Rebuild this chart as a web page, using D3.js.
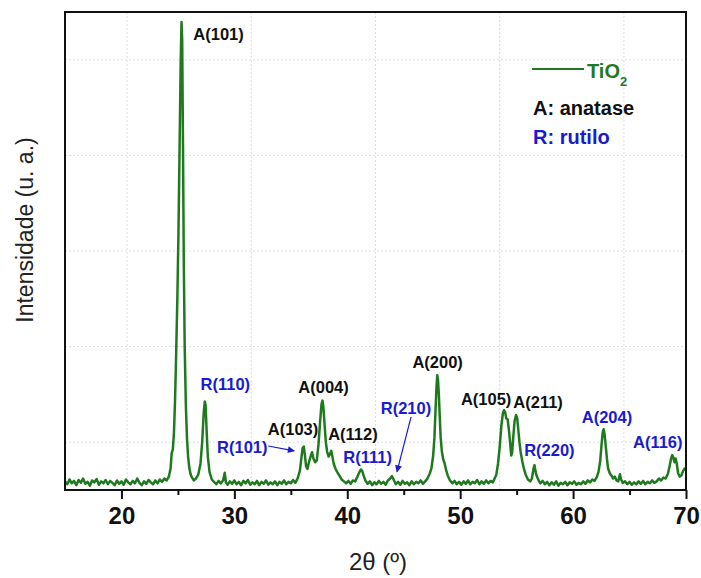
<!DOCTYPE html>
<html>
<head>
<meta charset="utf-8">
<script src="https://d3js.org/d3.v7.min.js"></script>
<style>
body { margin: 0; background: #fff; }
text { font-family: "Liberation Sans", Arial, sans-serif; }
</style>
</head>
<body>
<script>
// XRD pattern of TiO2: [2theta, intensity (a.u.)]
var xrdPoints = [
  [15.0,18],[15.2,12],[15.4,22],[15.6,14],[15.8,19],[16.0,10],[16.2,21],[16.4,15],[16.6,24],[16.8,13],
  [17.0,17],[17.2,9],[17.4,20],[17.6,16],[17.8,23],[18.0,11],[18.2,18],[18.4,14],[18.6,21],[18.8,12],
  [19.0,19],[19.2,15],[19.4,10],[19.6,20],[19.8,13],[20.0,18],[20.2,11],[20.4,22],[20.6,16],[20.8,12],
  [21.0,19],[21.2,14],[21.4,24],[21.6,15],[21.8,10],[22.0,18],[22.2,13],[22.4,21],[22.6,16],[22.8,12],
  [23.0,20],[23.2,14],[23.4,22],[23.6,17],[23.8,24],[24.0,20],[24.2,28],[24.35,45],[24.45,77],[24.55,85],
  [24.65,120],[24.75,190],[24.85,290],[24.95,400],[25.05,540],[25.15,720],[25.25,900],[25.32,979],[25.38,940],[25.45,720],
  [25.52,480],[25.6,300],[25.7,180],[25.8,110],[25.9,70],[26.0,48],[26.1,35],[26.2,28],[26.4,20],[26.6,24],
  [26.8,32],[27.0,55],[27.15,100],[27.28,160],[27.38,185],[27.45,178],[27.55,120],[27.65,70],[27.8,38],[28.0,22],
  [28.2,17],[28.4,12],[28.6,19],[28.8,14],[29.0,20],[29.15,36],[29.25,16],[29.4,11],[29.6,18],[29.8,13],
  [30.0,20],[30.2,12],[30.4,17],[30.6,10],[30.8,19],[31.0,14],[31.2,21],[31.4,11],[31.6,16],[31.8,12],
  [32.0,19],[32.2,10],[32.4,17],[32.6,13],[32.8,20],[33.0,11],[33.2,16],[33.4,12],[33.6,18],[33.8,10],
  [34.0,17],[34.2,13],[34.4,20],[34.6,12],[34.8,17],[35.0,14],[35.2,21],[35.4,15],[35.6,24],[35.8,40],
  [35.95,70],[36.05,88],[36.15,91],[36.25,72],[36.35,50],[36.47,44],[36.6,58],[36.75,70],[36.88,79],[37.0,66],
  [37.15,58],[37.3,62],[37.45,95],[37.6,145],[37.72,180],[37.8,187],[37.88,175],[37.98,140],[38.1,100],[38.22,80],
  [38.35,70],[38.48,76],[38.58,82],[38.68,70],[38.8,55],[38.95,45],[39.1,38],[39.3,30],[39.5,22],[39.7,18],
  [39.9,14],[40.1,19],[40.3,13],[40.5,20],[40.7,18],[40.9,28],[41.05,36],[41.2,43],[41.32,40],[41.45,30],
  [41.6,20],[41.8,13],[42.0,18],[42.2,10],[42.4,16],[42.6,12],[42.8,19],[43.0,13],[43.2,17],[43.4,11],
  [43.6,20],[43.8,24],[43.95,29],[44.1,22],[44.3,12],[44.5,17],[44.7,11],[44.9,19],[45.1,13],[45.3,16],
  [45.5,10],[45.7,18],[45.9,12],[46.1,17],[46.3,14],[46.5,20],[46.7,13],[46.9,18],[47.1,24],[47.3,34],
  [47.45,45],[47.6,70],[47.72,110],[47.82,170],[47.9,215],[47.97,240],[48.03,232],[48.1,205],[48.18,160],[48.27,110],
  [48.38,80],[48.5,64],[48.62,56],[48.75,42],[48.9,30],[49.1,20],[49.3,14],[49.5,19],[49.7,12],[49.9,17],
  [50.1,11],[50.3,18],[50.5,13],[50.7,20],[50.9,12],[51.1,17],[51.3,14],[51.5,21],[51.7,12],[51.9,18],
  [52.1,13],[52.3,20],[52.5,14],[52.7,19],[52.9,16],[53.05,24],[53.2,32],[53.35,55],[53.5,90],[53.65,135],
  [53.78,160],[53.88,167],[53.98,163],[54.08,150],[54.2,148],[54.32,125],[54.42,100],[54.52,72],[54.6,78],[54.7,110],
  [54.82,145],[54.95,157],[55.05,150],[55.15,125],[55.25,100],[55.35,80],[55.5,60],[55.65,44],[55.8,32],[56.0,22],
  [56.2,18],[56.35,24],[56.5,45],[56.58,52],[56.68,38],[56.8,28],[56.95,20],[57.1,14],[57.3,19],[57.5,12],
  [57.7,17],[57.9,10],[58.1,16],[58.3,11],[58.5,18],[58.7,9],[58.9,15],[59.1,12],[59.3,17],[59.5,10],
  [59.7,16],[59.9,13],[60.1,18],[60.3,11],[60.5,15],[60.7,12],[60.9,18],[61.1,13],[61.3,20],[61.5,16],
  [61.7,22],[61.9,19],[62.1,27],[62.25,38],[62.4,60],[62.52,95],[62.62,120],[62.7,127],[62.78,118],[62.88,95],
  [63.0,65],[63.1,45],[63.25,35],[63.4,30],[63.55,24],[63.7,28],[63.85,20],[64.0,18],[64.15,33],[64.25,22],
  [64.4,15],[64.6,18],[64.8,12],[65.0,17],[65.2,11],[65.4,16],[65.6,12],[65.8,18],[66.0,13],[66.2,19],
  [66.4,12],[66.6,17],[66.8,14],[67.0,20],[67.2,15],[67.4,18],[67.6,24],[67.8,20],[68.0,26],[68.2,24],
  [68.4,34],[68.55,50],[68.68,66],[68.78,73],[68.88,68],[68.98,58],[69.08,66],[69.18,56],[69.3,35],[69.45,28],
  [69.6,31],[69.75,40],[69.88,45],[70.0,42]
];

// peak labels: text, phase, 2theta (label centre), intensity (label baseline)
var peakNames  = ["A(101)","R(110)","A(004)","A(103)","A(112)","R(101)","R(111)","R(210)","A(200)","A(105)","A(211)","R(220)","A(204)","A(116)"];
var peakPhase  = ["A","R","A","A","A","R","R","R","A","A","A","R","R","R"];
var peakTheta  = [28.6,29.2,37.9,35.2,40.5,30.7,41.8,45.2,48.0,52.3,56.9,57.9,63.0,67.5];
var peakLabelI = [941,209,203,115,105,77,56,159,255,178,172,71,140,88];

// arrows: [tail 2theta, tail I, head 2theta, head I]
var arrows = [[33.0,92,35.3,82],[45.65,153,44.4,38]];

var xTicks = [20,30,40,50,60,70];
var xMinorTicks = [25,35,45,55,65];
var gridX = [20.5,31.5,42.5,53.5,64.5];
var gridY = [100,300,500,700,900];

var legendItems = ["A: anatase","R: rutilo"];

var green = "#1f7a1f", blue = "#1a1ad0", black = "#111";

var width = 701, height = 578;
var margin = {top: 12, right: 15, bottom: 88, left: 65};

var svg = d3.select("body").append("svg")
    .attr("width", width)
    .attr("height", height);

var x = d3.scaleLinear().domain([15, 70]).range([margin.left, width - margin.right]);
var y = d3.scaleLinear().domain([0, 1000]).range([height - margin.bottom, margin.top]);

// faint dotted grid
svg.append("g").selectAll("line").data(gridX).enter().append("line")
   .attr("x1", function(d){ return x(d); }).attr("x2", function(d){ return x(d); })
   .attr("y1", y(0)).attr("y2", y(1000))
   .attr("stroke", "#ddd").attr("stroke-width", 1).attr("stroke-dasharray", "2,2");
svg.append("g").selectAll("line").data(gridY).enter().append("line")
   .attr("y1", function(d){ return y(d); }).attr("y2", function(d){ return y(d); })
   .attr("x1", x(15)).attr("x2", x(70))
   .attr("stroke", "#ddd").attr("stroke-width", 1).attr("stroke-dasharray", "2,2");

// minor ticks
svg.append("g")
   .attr("transform", "translate(0," + y(0) + ")")
   .call(d3.axisBottom(x).tickValues(xMinorTicks).tickSize(5).tickFormat(""))
   .call(function(g){ g.select(".domain").remove(); })
   .selectAll("line").attr("stroke", black).attr("stroke-width", 2);

// major ticks + labels
var xAxis = svg.append("g")
   .attr("transform", "translate(0," + y(0) + ")")
   .call(d3.axisBottom(x).tickValues(xTicks).tickSize(9).tickPadding(8).tickFormat(d3.format("d")));
xAxis.select(".domain").remove();
xAxis.selectAll("line").attr("stroke", black).attr("stroke-width", 2);
xAxis.selectAll("text")
   .attr("fill", black)
   .style("font-size", "24px")
   .style("font-weight", "bold")
   .style("font-family", "'Liberation Sans', Arial, sans-serif");

// the pattern
var line = d3.line()
    .x(function(d){ return x(d[0]); })
    .y(function(d){ return y(d[1]); });

svg.append("path")
   .datum(xrdPoints)
   .attr("d", line)
   .attr("fill", "none")
   .attr("stroke", green)
   .attr("stroke-width", 2.5)
   .attr("stroke-linejoin", "round");

// frame
svg.append("rect")
   .attr("x", x(15)).attr("y", y(1000))
   .attr("width", x(70) - x(15)).attr("height", y(0) - y(1000))
   .attr("fill", "none").attr("stroke", black).attr("stroke-width", 2);

// peak labels
svg.append("g").selectAll("text").data(peakNames).enter().append("text")
   .attr("x", function(d, i){ return x(peakTheta[i]); })
   .attr("y", function(d, i){ return y(peakLabelI[i]); })
   .attr("text-anchor", "middle")
   .style("font-size", "16.5px")
   .style("font-weight", "bold")
   .attr("fill", function(d, i){ return peakPhase[i] == "A" ? black : blue; })
   .text(function(d){ return d; });

// arrows
var defs = svg.append("defs");
defs.append("marker")
   .attr("id", "arrowhead")
   .attr("viewBox", "0 0 10 10")
   .attr("refX", 9).attr("refY", 5)
   .attr("markerWidth", 9).attr("markerHeight", 7)
   .attr("markerUnits", "userSpaceOnUse")
   .attr("orient", "auto")
   .append("path").attr("d", "M0,0 L10,5 L0,10 z").attr("fill", blue);

svg.append("g").selectAll("line").data(arrows).enter().append("line")
   .attr("x1", function(d){ return x(d[0]); }).attr("y1", function(d){ return y(d[1]); })
   .attr("x2", function(d){ return x(d[2]); }).attr("y2", function(d){ return y(d[3]); })
   .attr("stroke", blue).attr("stroke-width", 1.2)
   .attr("marker-end", "url(#arrowhead)");

// legend
svg.append("line")
   .attr("x1", 532).attr("x2", 584).attr("y1", 69).attr("y2", 69)
   .attr("stroke", green).attr("stroke-width", 2);
var tio = svg.append("text")
   .attr("x", 587).attr("y", 78)
   .attr("fill", green)
   .style("font-size", "20px")
   .style("font-weight", "bold");
tio.append("tspan").text("TiO");
tio.append("tspan").attr("dy", 8).style("font-size", "13px").text("2");

svg.append("g").selectAll("text").data(legendItems).enter().append("text")
   .attr("x", 533)
   .attr("y", function(d, i){ return 115 + i * 29; })
   .attr("fill", function(d, i){ return i == 0 ? black : blue; })
   .style("font-size", "20px")
   .style("font-weight", "bold")
   .text(function(d){ return d; });

// axis titles
svg.append("text")
   .attr("transform", "translate(33,230) rotate(-90)")
   .attr("text-anchor", "middle")
   .attr("fill", "#222")
   .style("font-size", "23px")
   .text("Intensidade (u. a.)");

svg.append("text")
   .attr("x", 378).attr("y", 570)
   .attr("text-anchor", "middle")
   .attr("fill", "#222")
   .style("font-size", "24px")
   .text("2\u03B8 (\u00BA)");
</script>
</body>
</html>
